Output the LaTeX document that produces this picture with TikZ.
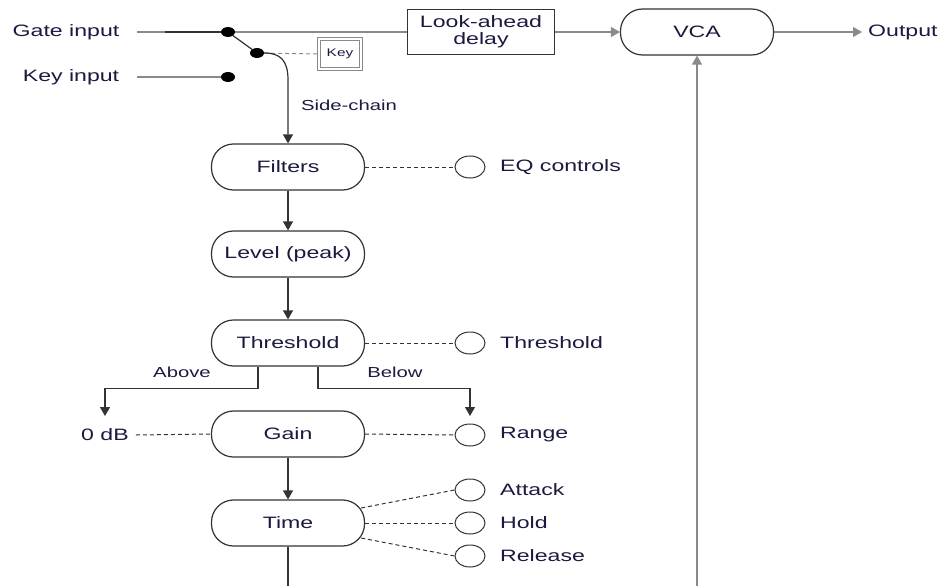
\documentclass[tikz,border=0pt]{standalone}
\usepackage{fontspec}
\setmainfont{Liberation Sans}[FakeStretch=1.4]
\usetikzlibrary{arrows.meta,shapes.geometric,calc}
\definecolor{ln}{HTML}{333333}
\definecolor{lg}{HTML}{8A8A8A}
\definecolor{txt}{HTML}{1A1A40}
\tikzset{
  lbl/.style={inner sep=0pt, text=txt, font=\fontsize{16.5}{19}\selectfont},
  small/.style={inner sep=0pt, text=txt, font=\fontsize{14.5}{17}\selectfont},
  stad/.style={draw=ln, line width=1.2pt, rounded corners=22pt, minimum width=153pt, minimum height=46pt, inner sep=0pt, fill=white, text=txt, font=\fontsize{16.5}{19}\selectfont},
  knob/.style={draw=ln, line width=1pt, ellipse, minimum width=30pt, minimum height=22pt, inner sep=0pt},
  dotn/.style={fill=black, ellipse, minimum width=14pt, minimum height=10pt, inner sep=0pt},
  wire/.style={draw=ln, line width=1.2pt},
  arr/.style={wire, -{Triangle[length=9pt,width=10pt]}},
  dsh/.style={draw=ln, line width=1pt, dash pattern=on 4pt off 3pt},
}
\begin{document}
\begin{tikzpicture}[x=1pt,y=-1pt]
\useasboundingbox (0,0) rectangle (942,586);
% text labels
\node[lbl] (gatein) at (66,32) {Gate input};
\node[lbl] (keyin) at (71,77) {Key input};
\node[small] (sc) at (349,105) {Side-chain};
% dots
\node[dotn] (dA) at (228,32) {};
\node[dotn] (dK) at (228,77) {};
\node[dotn] (dS) at (257,53) {};
\coordinate (gs) at (137,32);
\coordinate (ks) at (137,77);
% main nodes
\node[stad] (vca) at (697,32) {VCA};
\node[stad] (filt) at (288,167) {Filters};
\node[stad] (lev) at (288,254) {Level (peak)};
\node[stad] (thr) at (288,343) {Threshold};
\node[stad] (gain) at (288,434) {Gain};
\node[stad] (time) at (288,523) {Time};
\node[lbl, anchor=west] (out) at (868,32) {Output};
% gate line
\draw[draw=lg, line width=1.2pt] (gs) -- (dA);
\draw[draw=ln, line width=1.4pt] ($(gs)+(28,0)$) -- (dA);
\draw[arr, draw=lg] (dA) -- (vca.west);
\node[draw=ln, line width=1.2pt, fill=white, minimum width=147pt, minimum height=45pt, inner sep=0pt, align=center, text=txt, font=\fontsize{16.5}{17}\selectfont] (lad) at (481,32) {Look-ahead\\delay};
\draw[wire, draw=lg] (ks) -- (dK);
\draw[wire] (dA) -- (dS);
\node[draw=lg, line width=1.2pt, double=white, double distance=2.5pt, fill=white, minimum width=42pt, minimum height=30pt, inner sep=0pt, text=txt, font=\fontsize{11}{12}\selectfont] (key) at (340,54) {Key};
\draw[dsh, draw=lg] (dS) -- (key.west);
\draw[arr] (dS) .. controls (280,53) and (288,60) .. (288,80) -- (filt.north);
% output and feedback
\draw[arr, draw=lg] (vca.east) -- ($(out.west)+(-6,0)$);
\coordinate (vb) at (697,586);
\draw[arr, draw=lg] (vb) -- (vca.south);
% side chain
\draw[arr] (filt.south) -- (lev.north);
\draw[arr] (lev.south) -- (thr.north);
\draw[arr] (gain.south) -- (time.north);
\coordinate (tb) at (288,586);
\draw[wire] (time.south) -- (tb);
% threshold split
\coordinate (aL) at (105,416);
\coordinate (aR) at (470,416);
\draw[arr] ($(thr.south)+(-30,0)$) -- ++(0,22) -| (aL);
\draw[arr] ($(thr.south)+(30,0)$) -- ++(0,22) -| (aR);
\node[small] (above) at (182,372) {Above};
\node[small] (below) at (395,372) {Below};
% controls
\node[knob] (cEQ) at (470,167) {};
\node[lbl, anchor=west] (tEQ) at (500,167) {EQ controls};
\node[knob] (cThr) at (470,343) {};
\node[lbl, anchor=west] (tThr) at (500,343) {Threshold};
\node[knob] (cRg) at (470,435) {};
\node[lbl, anchor=west] (tRg) at (500,435) {Range};
\node[knob] (cAt) at (470,490) {};
\node[lbl, anchor=west] (tAt) at (500,490) {Attack};
\node[knob] (cHo) at (470,523) {};
\node[lbl, anchor=west] (tHo) at (500,523) {Hold};
\node[knob] (cRe) at (470,556) {};
\node[lbl, anchor=west] (tRe) at (500,556) {Release};
\node[lbl] (zdb) at (105,435) {0 dB};
\draw[dsh] (filt.east) -- (cEQ.west);
\draw[dsh] (thr.east) -- (cThr.west);
\draw[dsh] (gain.east) -- (cRg.west);
\draw[dsh] ($(zdb.east)+(7,0)$) -- (gain.west);
\draw[dsh] ($(time.east)+(-4,-15)$) -- (cAt.west);
\draw[dsh] (time.east) -- (cHo.west);
\draw[dsh] ($(time.east)+(-4,15)$) -- (cRe.west);
\end{tikzpicture}
\end{document}
